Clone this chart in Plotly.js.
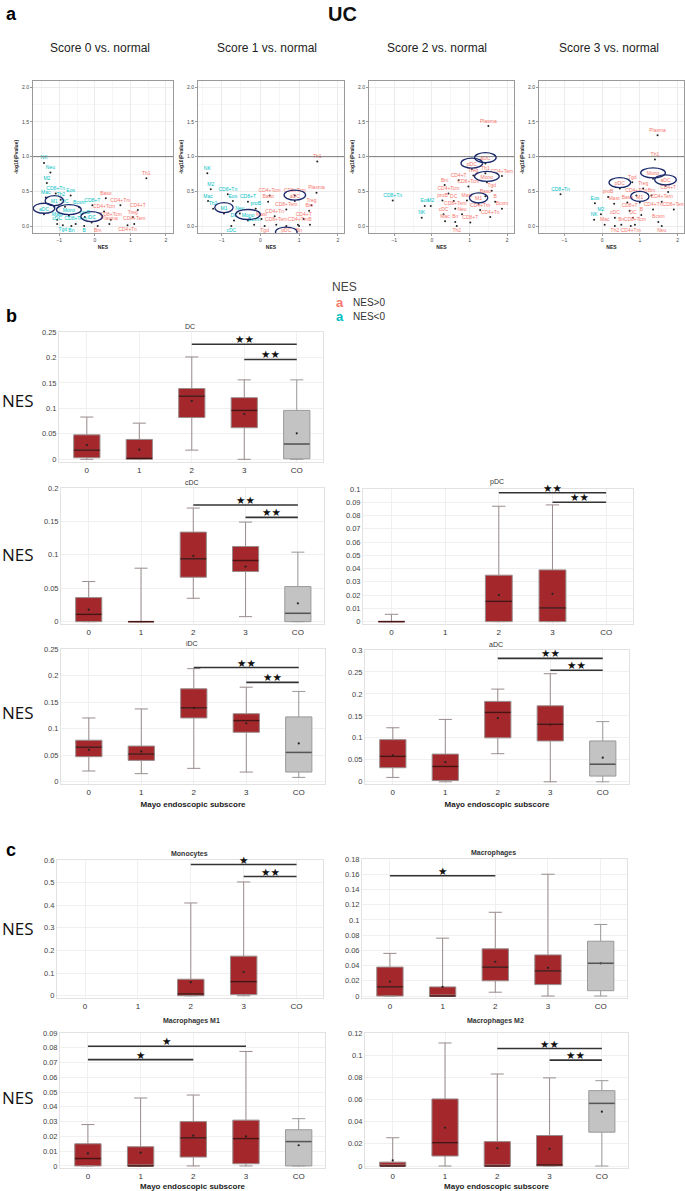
<!DOCTYPE html>
<html><head><meta charset="utf-8">
<script src="https://cdn.plot.ly/plotly-3.0.1.min.js"></script>
<style>html,body{margin:0;padding:0;background:#fff}#chart{width:685px;height:1191px}</style>
</head><body><div id="chart"></div>
<script>
// ================= DATA =================
// Panel a: GSEA scatter (NES vs -log10 P) per Mayo score
const scoreTitles = ['Score 0 vs. normal','Score 1 vs. normal','Score 2 vs. normal','Score 3 vs. normal'];

const s0Cells = ['NK','Neu','M2','CD8+Tn','Eos','Mac','Th2','M1','DC','Bcsm','aDC','Mono','proB','Mast','CD8+T','cDC','CD8+Tem','Tgd','Bn','B','iDC','Th1','Baso','CD4+Tm','CD4+T','CD4+Tcm','Treg','CD8+Tcm','Bm','Plasma','CD4+Tem','CD4+Tn'];
const s0NES   = [-1.43,-1.25,-1.35,-1.10,-0.68,-1.38,-0.96,-1.14,-0.84,-0.44,-1.43,-0.73,-0.28,-1.06,-0.07,-1.06,-0.54,-0.90,-0.66,-0.30,-0.09,1.45,0.31,0.72,1.21,0.26,1.07,0.45,0.08,0.41,1.11,0.92];
const s0LogP  = [0.91,0.77,0.62,0.47,0.44,0.41,0.38,0.28,0.28,0.27,0.17,0.15,0.13,0.09,0.30,0.03,0.03,0.01,0.0,0.0,0.05,0.69,0.40,0.30,0.23,0.21,0.13,0.09,0.0,0.03,0.03,0.01];
const s0Circled = ['M1','aDC','Mono','iDC'];

const s1Cells = ['NK','M2','CD8+Tn','Mac','Eos','CD8+T','Th2','M1','Neu','proB','DC','Mono','Bcsm','cDC','Th1','Plasma','CD4+Tcm','CD8+Tcm','aDC','Baso','Treg','CD8+Tem','Bm','CD4+Tn','Mast','CD4+T','CD8+Tem','CD4+Tm','B','Tgd','pDC','Bn'];
const s1NES   = [-1.37,-1.28,-0.84,-1.35,-0.71,-0.32,-1.22,-0.94,-0.53,-0.12,-0.68,-0.32,-0.16,-0.75,1.47,1.45,0.24,0.89,0.89,0.20,1.32,0.67,1.26,0.37,0.03,1.12,0.41,0.97,1.28,0.11,0.67,1.00];
const s1LogP  = [0.76,0.53,0.46,0.36,0.36,0.35,0.25,0.18,0.18,0.25,0.08,0.08,0.02,0.0,0.93,0.48,0.44,0.44,0.36,0.35,0.30,0.24,0.22,0.14,0.10,0.10,0.02,0.02,0.02,0.0,0.0,0.0];
const s1Circled = ['M1','Mono','aDC','pDC'];

const s2Cells = ['CD8+Tn','Eos','M2','NK','Plasma','aDC','pDC','Th1','CD4+Tem','Treg','CD4+T','Mono','CD8+Tcm','Bm','Tgd','CD4+Tcm','Baso','proB','DC','Mast','B','M1','CD8+Tem','Bcsm','CD4+Tm','cDC','Neu','CD4+Tn','Mac','Bn','CD8+T','Th2'];
const s2NES   = [-1.04,-0.19,-0.03,-0.27,1.50,1.42,1.06,1.42,1.86,1.10,0.71,1.46,0.97,0.34,1.59,0.44,1.42,0.28,0.58,0.93,1.68,1.24,0.62,1.86,1.28,0.31,0.80,1.55,0.35,0.62,1.02,0.66];
const s2LogP  = [0.37,0.29,0.29,0.12,1.44,0.90,0.82,0.76,0.72,0.73,0.66,0.63,0.57,0.59,0.51,0.47,0.43,0.37,0.36,0.37,0.35,0.32,0.25,0.25,0.23,0.17,0.17,0.13,0.07,0.06,0.05,0.0];
const s2Circled = ['aDC','pDC','Mono','M1'];

const s3Cells = ['CD8+Tn','Eos','M2','NK','Plasma','Th1','Mono','aDC','Tgd','pDC','Treg','CD4+T','CD4+Tcm','Bm','proB','Mast','Baso','M1','CD4+Tem','CD4+Tn','CD8+T','CD8+Tem','cDC','DC','B','Bcsm','Mac','Bn','CD8+Tcm','Neu','Th2','CD4+Tm'];
const s3NES   = [-1.10,-0.19,-0.03,-0.21,1.47,1.40,1.35,1.68,0.80,0.47,1.09,1.75,0.91,1.31,0.16,0.32,0.67,1.00,1.58,1.35,0.73,1.90,0.34,0.82,1.04,1.49,0.07,0.51,0.87,1.58,0.34,0.76];
const s3LogP  = [0.46,0.33,0.17,0.09,1.31,0.96,0.68,0.58,0.63,0.54,0.54,0.49,0.44,0.44,0.42,0.32,0.34,0.34,0.35,0.24,0.22,0.24,0.12,0.12,0.16,0.06,0.02,0.02,0.02,0.0,0.0,0.0];
const s3Circled = ['Mono','aDC','pDC','M1'];

// Panels b, c: NES by Mayo endoscopic subscore (box summaries)
const categories = ['0','1','2','3','CO'];

const dcQ1     = [0.003,0,0.082,0.062,0.001];
const dcMedian = [0.018,0.002,0.124,0.096,0.030];
const dcQ3     = [0.048,0.039,0.139,0.121,0.096];
const dcLower  = [0,0,0.018,0,0];
const dcUpper  = [0.083,0.071,0.201,0.156,0.156];
const dcMean   = [0.028,0.019,0.115,0.089,0.051];
const dcSigFrom = ['2','3'], dcSigTo = ['CO','CO'], dcSigY = [0.226,0.196], dcSigText = ['★★','★★'];

const cdcQ1     = [0,0,0.0665,0.075,0];
const cdcMedian = [0.011,0,0.094,0.0915,0.0125];
const cdcQ3     = [0.036,0,0.134,0.1125,0.0525];
const cdcLower  = [0,0,0.035,0.0075,0];
const cdcUpper  = [0.06,0.08,0.17,0.149,0.104];
const cdcMean   = [0.018,null,0.0985,0.0825,0.0275];
const cdcSigFrom = ['2','3'], cdcSigTo = ['CO','CO'], cdcSigY = [0.1745,0.156], cdcSigText = ['★★','★★'];

const pdcQ1     = [0,null,0,0,null];
const pdcMedian = [0,null,0.0153,0.0103,null];
const pdcQ3     = [0,null,0.035,0.039,null];
const pdcLower  = [0,null,0,0,null];
const pdcUpper  = [0.0055,null,0.087,0.088,null];
const pdcMean   = [null,null,0.020,0.021,null];
const pdcSigFrom = ['2','3'], pdcSigTo = ['CO','CO'], pdcSigY = [0.0972,0.090], pdcSigText = ['★★','★★'];

const idcQ1     = [0.047,0.04,0.12,0.093,0.018];
const idcMedian = [0.065,0.052,0.139,0.115,0.055];
const idcQ3     = [0.078,0.067,0.175,0.128,0.122];
const idcLower  = [0.02,0.015,0.025,0.018,0.008];
const idcUpper  = [0.12,0.137,0.213,0.178,0.17];
const idcMean   = [0.06,0.057,0.139,0.11,0.072];
const idcSigFrom = ['2','3'], idcSigTo = ['CO','CO'], idcSigY = [0.215,0.187], idcSigText = ['★★','★★'];

const adcQ1     = [0.032,0.003,0.1,0.093,0.013];
const adcMedian = [0.058,0.035,0.158,0.131,0.04];
const adcQ3     = [0.096,0.063,0.183,0.173,0.093];
const adcLower  = [0.01,0,0.064,0,0];
const adcUpper  = [0.123,0.142,0.211,0.246,0.137];
const adcMean   = [0.06,0.045,0.145,0.13,0.055];
const adcSigFrom = ['2','3'], adcSigTo = ['CO','CO'], adcSigY = [0.281,0.254], adcSigText = ['★★','★★'];

const monoQ1     = [null,null,0,0.005,null];
const monoMedian = [null,null,0.008,0.062,null];
const monoQ3     = [null,null,0.073,0.175,null];
const monoLower  = [null,null,0,0,null];
const monoUpper  = [null,null,0.41,0.503,null];
const monoMean   = [null,null,0.06,0.105,null];
const monoSigFrom = ['2','3'], monoSigTo = ['CO','CO'], monoSigY = [0.58,0.527], monoSigText = ['★','★★'];

const macQ1     = [0,0,0.02,0.015,0.007];
const macMedian = [0.012,0,0.038,0.033,0.043];
const macQ3     = [0.038,0.012,0.062,0.054,0.072];
const macLower  = [0,0,0.005,0,0];
const macUpper  = [0.056,0.076,0.11,0.16,0.094];
const macMean   = [0.019,0.012,0.045,0.037,0.043];
const macSigFrom = ['0'], macSigTo = ['2'], macSigY = [0.158], macSigText = ['★'];

const m1Q1     = [0,0,0.006,0.0015,0];
const m1Median = [0.005,0,0.019,0.0185,0.0165];
const m1Q3     = [0.015,0.013,0.03,0.031,0.0245];
const m1Lower  = [0,0,0,0,0];
const m1Upper  = [0.028,0.046,0.048,0.0775,0.032];
const m1Mean   = [0.0085,0.009,0.0205,0.02,0.014];
const m1SigFrom = ['0','0'], m1SigTo = ['3','2'], m1SigY = [0.081,0.072], m1SigText = ['★','★'];

const m2Q1     = [0,0.009,0,0,0.0305];
const m2Median = [0,0.021,0,0.001,0.0565];
const m2Q3     = [0.0035,0.0605,0.022,0.0275,0.068];
const m2Lower  = [0,0,0,0,0];
const m2Upper  = [0.0255,0.111,0.083,0.0795,0.077];
const m2Mean   = [0.005,0.0345,0.016,0.0155,0.049];
const m2SigFrom = ['2','3'], m2SigTo = ['CO','CO'], m2SigY = [0.106,0.0955], m2SigText = ['★★','★★'];

// ================= LAYOUT HELPERS =================
const W = 685, H = 1191;
const FONT = '"Liberation Sans", Arial, sans-serif';
const POS = '#F8766D', NEG = '#00BFC4';
const RED = '#A4282B', GRAY = '#C3C3C3';
const dx = (a,b) => [a/W, b/W];
const dy = (top,bottom) => [1-bottom/H, 1-top/H];
const py = p => 1 - p/H;
const px = p => p/W;

const data = [];
const layout = {
  width: W, height: H, margin:{l:0,r:0,t:0,b:0},
  paper_bgcolor:'#fff', plot_bgcolor:'#fff', showlegend:false,
  font:{family:FONT, color:'#333'},
  shapes:[], annotations:[]
};
function note(x, y, text, font, xanchor){
  layout.annotations.push({xref:'paper', yref:'paper', x:px(x), y:py(y), text:text, showarrow:false,
    xanchor:xanchor||'center', yanchor:'middle', font:font});
}

// ---------- Panel a ----------
const scatterSets = [
  {cells:s0Cells, nes:s0NES, lp:s0LogP, circ:s0Circled},
  {cells:s1Cells, nes:s1NES, lp:s1LogP, circ:s1Circled},
  {cells:s2Cells, nes:s2NES, lp:s2LogP, circ:s2Circled},
  {cells:s3Cells, nes:s3NES, lp:s3LogP, circ:s3Circled}
];
const scatterGeom = [
  {x:[33,173], xr:[-1.74,2.2], cx:100},
  {x:[198,344], xr:[-1.61,2.16], cx:267},
  {x:[369,514], xr:[-1.67,2.18], cx:437},
  {x:[539,684], xr:[-1.67,2.17], cx:609}
];
scatterSets.forEach((s,k) => {
  const n = k+1, g = scatterGeom[k];
  const xa = 'xaxis'+(n===1?'':n), ya = 'yaxis'+(n===1?'':n);
  const xr = 'x'+(n===1?'':n), yr = 'y'+(n===1?'':n);
  layout[xa] = {domain:dx(g.x[0],g.x[1]), range:g.xr, anchor:yr, tickvals:[-1,0,1,2],
    showgrid:true, gridcolor:'#ececec', minor:{showgrid:true, gridcolor:'#f6f6f6', dtick:0.5},
    zeroline:false, showline:true, mirror:true, linecolor:'#9a9a9a', linewidth:1,
    ticks:'outside', ticklen:2, tickcolor:'#9a9a9a', tickfont:{size:5, color:'#444'},
    title:{text:'NES', font:{size:5, color:'#222', weight:'bold'}, standoff:3}};
  layout[ya] = {domain:dy(81,233), range:[-0.1,2.09], anchor:xr, tickvals:[0,0.5,1,1.5,2], tickformat:'.1f',
    showgrid:true, gridcolor:'#ececec', minor:{showgrid:true, gridcolor:'#f6f6f6', dtick:0.25},
    zeroline:false, showline:true, mirror:true, linecolor:'#9a9a9a', linewidth:1,
    ticks:'outside', ticklen:2, tickcolor:'#9a9a9a', tickfont:{size:5, color:'#444'},
    title:{text:'-log10(Pvalue)', font:{size:5, color:'#222', weight:'bold'}, standoff:3}};
  layout.shapes.push({type:'line', xref:xr+' domain', yref:yr, x0:0, x1:1, y0:1, y1:1,
    line:{color:'#7a7a7a', width:1}});
  data.push({type:'scatter', mode:'markers+text', xaxis:xr, yaxis:yr,
    x:s.nes, y:s.lp, text:s.cells,
    textposition:s.lp.map(v => v < 0.015 ? 'bottom center' : 'top center'),
    textfont:{size:5, family:FONT, color:s.nes.map(v => v > 0 ? POS : NEG)},
    marker:{size:2, color:'#222'}, hoverinfo:'text', cliponaxis:false});
  s.circ.forEach(name => {
    const i = s.cells.indexOf(name);
    const hw = name.length*1.6 + 6;
    const below = s.lp[i] < 0.015;
    layout.shapes.push({type:'circle', xref:xr, yref:yr, xsizemode:'pixel', ysizemode:'pixel',
      xanchor:s.nes[i], yanchor:s.lp[i], x0:-hw, x1:hw,
      y0: below ? -1 : 1, y1: below ? -11 : 11,
      line:{color:'#1c2a6b', width:1.3}});
  });
  note(g.cx, 48, scoreTitles[k], {size:12, color:'#222'});
});

// Panel a headings & legend
note(342, 14, '<b>UC</b>', {size:20, color:'#111'});
note(344, 287, 'NES', {size:12, color:'#444'});
note(340, 302, '<b>a</b>', {size:13, color:POS});
note(351, 302, 'NES>0', {size:10, color:'#333'}, 'left');
note(340, 316, '<b>a</b>', {size:13, color:NEG});
note(351, 316, 'NES<0', {size:10, color:'#333'}, 'left');
[['a',14],['b',316],['c',850]].forEach(([t,y]) => note(4, y, '<b>'+t+'</b>', {size:18, color:'#000'}, 'left'));

// ---------- Panels b, c ----------
const boxPanels = [
  {title:'DC', q1:dcQ1, med:dcMedian, q3:dcQ3, lo:dcLower, up:dcUpper, mean:dcMean, sf:dcSigFrom, st:dcSigTo, sy:dcSigY, stx:dcSigText,
   x:[59,323], y:[332,462], yr:[-0.0053,0.25], dtick:0.05, ty:326, bold:false, xt:false},
  {title:'cDC', q1:cdcQ1, med:cdcMedian, q3:cdcQ3, lo:cdcLower, up:cdcUpper, mean:cdcMean, sf:cdcSigFrom, st:cdcSigTo, sy:cdcSigY, stx:cdcSigText,
   x:[61,324], y:[488,624], yr:[-0.0035,0.2], dtick:0.05, ty:482, bold:false, xt:false},
  {title:'pDC', q1:pdcQ1, med:pdcMedian, q3:pdcQ3, lo:pdcLower, up:pdcUpper, mean:pdcMean, sf:pdcSigFrom, st:pdcSigTo, sy:pdcSigY, stx:pdcSigText,
   x:[363,633], y:[489,624], yr:[-0.0018,0.1], dtick:0.01, ty:482, bold:false, xt:false},
  {title:'iDC', q1:idcQ1, med:idcMedian, q3:idcQ3, lo:idcLower, up:idcUpper, mean:idcMean, sf:idcSigFrom, st:idcSigTo, sy:idcSigY, stx:idcSigText,
   x:[61,325], y:[649,784], yr:[-0.0045,0.25], dtick:0.05, ty:643, bold:false, xt:true},
  {title:'aDC', q1:adcQ1, med:adcMedian, q3:adcQ3, lo:adcLower, up:adcUpper, mean:adcMean, sf:adcSigFrom, st:adcSigTo, sy:adcSigY, stx:adcSigText,
   x:[365,629], y:[650,784], yr:[-0.005,0.3], dtick:0.05, ty:644, bold:false, xt:true},
  {title:'Monocytes', q1:monoQ1, med:monoMedian, q3:monoQ3, lo:monoLower, up:monoUpper, mean:monoMean, sf:monoSigFrom, st:monoSigTo, sy:monoSigY, stx:monoSigText,
   x:[57,323], y:[860,998], yr:[-0.01,0.6], dtick:0.1, ty:854, bold:true, xt:false},
  {title:'Macrophages', q1:macQ1, med:macMedian, q3:macQ3, lo:macLower, up:macUpper, mean:macMean, sf:macSigFrom, st:macSigTo, sy:macSigY, stx:macSigText,
   x:[362,627], y:[859,998], yr:[-0.0026,0.18], dtick:0.02, ty:853, bold:true, xt:false},
  {title:'Macrophages M1', q1:m1Q1, med:m1Median, q3:m1Q3, lo:m1Lower, up:m1Upper, mean:m1Mean, sf:m1SigFrom, st:m1SigTo, sy:m1SigY, stx:m1SigText,
   x:[60,325], y:[1033,1168], yr:[-0.0014,0.09], dtick:0.01, ty:1021, bold:true, xt:true},
  {title:'Macrophages M2', q1:m2Q1, med:m2Median, q3:m2Q3, lo:m2Lower, up:m2Upper, mean:m2Mean, sf:m2SigFrom, st:m2SigTo, sy:m2SigY, stx:m2SigText,
   x:[365,628], y:[1033,1168], yr:[-0.0018,0.12], dtick:0.02, ty:1021, bold:true, xt:true}
];

boxPanels.forEach((p,k) => {
  const n = k+5;
  const xr = 'x'+n, yr = 'y'+n;
  layout['xaxis'+n] = {domain:dx(p.x[0],p.x[1]), anchor:yr, type:'category', categoryorder:'array', categoryarray:categories,
    range:[-0.53,4.5], showgrid:true, gridcolor:'#f0f0f0', zeroline:false, showline:true, mirror:true,
    linecolor:'#e2e2e2', linewidth:1, ticks:'', tickfont:{size:8, color:'#333'},
    title: p.xt ? {text:'Mayo endoscopic subscore', font:{size:8, color:'#222', weight:'bold'}, standoff:5} : {text:''}};
  layout['yaxis'+n] = {domain:dy(p.y[0],p.y[1]), anchor:xr, range:p.yr, dtick:p.dtick, tick0:0,
    showgrid:true, gridcolor:'#f0f0f0', zeroline:false, showline:true, mirror:true,
    linecolor:'#e2e2e2', linewidth:1, ticks:'', tickfont:{size:7.5, color:'#444'}};
  // category placeholder so all five categories exist
  data.push({type:'scatter', mode:'markers', xaxis:xr, yaxis:yr, x:categories, y:categories.map(()=>0),
    marker:{opacity:0, size:1}, hoverinfo:'skip'});
  const groups = {red:{x:[],q1:[],median:[],q3:[],lowerfence:[],upperfence:[]},
                  gray:{x:[],q1:[],median:[],q3:[],lowerfence:[],upperfence:[]}};
  categories.forEach((c,i) => {
    if (p.q1[i] === null) return;
    const gr = c === 'CO' ? groups.gray : groups.red;
    gr.x.push(c); gr.q1.push(p.q1[i]); gr.median.push(p.med[i]); gr.q3.push(p.q3[i]);
    gr.lowerfence.push(p.lo[i]); gr.upperfence.push(p.up[i]);
    // emphasised median stroke drawn over the box
    layout.shapes.push({type:'line', xref:xr, yref:yr, x0:i-0.245, x1:i+0.245, y0:p.med[i], y1:p.med[i],
      line:{color: c === 'CO' ? '#555' : '#4a1212', width:1.5}});
  });
  [['red',RED,'#9a8c8c'],['gray',GRAY,'#9a9a9a']].forEach(([key,fill,line]) => {
    const gr = groups[key];
    if (!gr.x.length) return;
    data.push(Object.assign({type:'box', xaxis:xr, yaxis:yr, fillcolor:fill, line:{color:line, width:1},
      width:0.5, whiskerwidth:0.5, boxpoints:false, hoverinfo:'y'}, gr));
  });
  const mx = [], my = [];
  categories.forEach((c,i) => { if (p.mean[i] !== null) { mx.push(c); my.push(p.mean[i]); } });
  data.push({type:'scatter', mode:'markers', xaxis:xr, yaxis:yr, x:mx, y:my,
    marker:{size:2.2, color:'#222'}, hoverinfo:'y'});
  // significance bars
  p.sf.forEach((f,j) => {
    const a = categories.indexOf(f), b = categories.indexOf(p.st[j]);
    layout.shapes.push({type:'line', xref:xr, yref:yr, x0:a, x1:b, y0:p.sy[j], y1:p.sy[j],
      line:{color:'#333', width:1.6}});
    layout.annotations.push({xref:xr, yref:yr, x:(a+b)/2, y:p.sy[j], text:p.stx[j], showarrow:false,
      yanchor:'bottom', yshift:-3, font:{size:10.5, color:'#111', family:'"DejaVu Sans", sans-serif'}});
  });
  note((p.x[0]+p.x[1])/2 - 1, p.ty, p.bold?'<b>'+p.title+'</b>':p.title, {size:7, color:'#333'});
});

// side "NES" labels
[400,555,712,928,1097].forEach(y => note(0, y, 'NES', {size:17, color:'#111', family:'"Open Sans", "Noto Sans", sans-serif'}, 'left'));

Plotly.newPlot('chart', data, layout, {displayModeBar:false, staticPlot:true});
</script></body></html>
